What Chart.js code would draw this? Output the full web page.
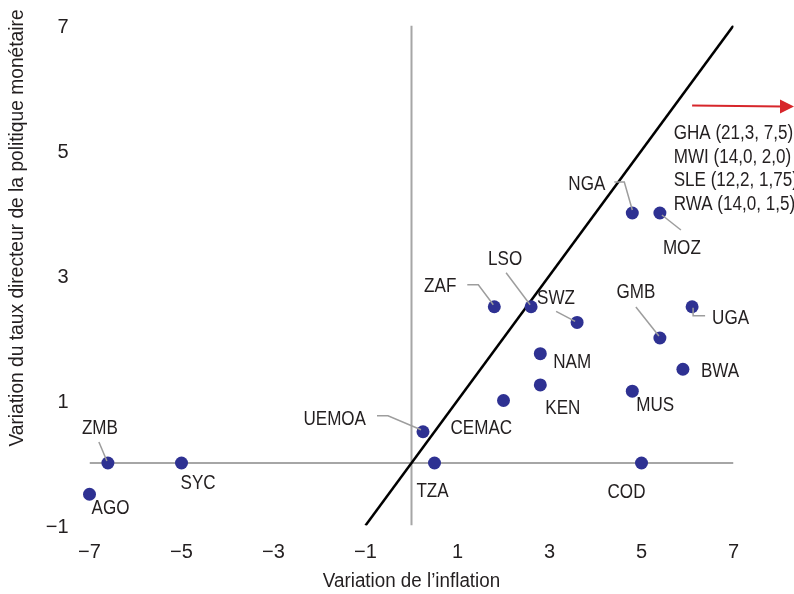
<!DOCTYPE html>
<html>
<head>
<meta charset="utf-8">
<script src="https://cdn.jsdelivr.net/npm/chart.js@4.4.1/dist/chart.umd.min.js"></script>
<style>
  html, body { margin: 0; padding: 0; background: #fff; }
  #wrap { width: 794px; height: 594px; }
</style>
</head>
<body>
<div id="wrap"><canvas id="chart" width="794" height="594"></canvas></div>
<script>
// Pays / unions monétaires
const codes = ['AGO', 'ZMB', 'SYC', 'UEMOA', 'TZA', 'CEMAC', 'ZAF', 'LSO', 'SWZ',
               'NAM', 'KEN', 'MUS', 'GMB', 'BWA', 'UGA', 'NGA', 'MOZ', 'COD'];
// Variation de l'inflation (axe x)
const inflation = [-7, -6.6, -5, 0.25, 0.5, 2, 1.8, 2.6, 3.6,
                   2.8, 2.8, 4.8, 5.4, 5.9, 6.1, 4.8, 5.4, 5];
// Variation du taux directeur (axe y)
const policyRate = [-0.5, 0, 0, 0.5, 0, 1, 2.5, 2.5, 2.25,
                    1.75, 1.25, 1.15, 2, 1.5, 2.5, 4, 4, 0];
// Hors graphique
const offChart = ['GHA (21,3, 7,5)', 'MWI (14,0, 2,0)', 'SLE (12,2, 1,75)', 'RWA (14,0, 1,5)'];
const xTicks = [-7, -5, -3, -1, 1, 3, 5, 7];
const yTicks = [-1, 1, 3, 5, 7];

const FONT = "'Liberation Sans', Arial, sans-serif";
const TEXT = '#231f20';
const DOT = '#2e3192';

// placement des étiquettes (décalages en px par rapport au point)
const labelLayout = {
  AGO:   { dx: 2, dy: 14, align: 'left' },
  ZMB:   { dx: -8, dy: -34, align: 'center', leader: [[-9, -21], [-1, -2]] },
  SYC:   { dx: -1, dy: 21, align: 'left' },
  UEMOA: { dx: -57, dy: -12, align: 'right', leader: [[-46, -16], [-35, -16], [-2, -2]] },
  TZA:   { dx: -2, dy: 29, align: 'center' },
  CEMAC: { dx: -53, dy: 28, align: 'left' },
  ZAF:   { dx: -38, dy: -20, align: 'right', leader: [[-27, -22], [-16, -22], [-1, -2]] },
  LSO:   { dx: -26, dy: -47, align: 'center', leader: [[-25, -34], [-1, -2]] },
  SWZ:   { dx: -40, dy: -24, align: 'left', leader: [[-21, -11], [-2, -1]] },
  NAM:   { dx: 13, dy: 9, align: 'left' },
  KEN:   { dx: 5, dy: 24, align: 'left' },
  MUS:   { dx: 4, dy: 14, align: 'left' },
  GMB:   { dx: -24, dy: -45, align: 'center', leader: [[-24, -31], [-1, -2]] },
  BWA:   { dx: 18, dy: 2, align: 'left' },
  UGA:   { dx: 20, dy: 12, align: 'left', leader: [[1, 1], [1, 9], [13, 9]] },
  NGA:   { dx: -27, dy: -28, align: 'right', leader: [[-18, -31], [-8, -31], [0, -3]] },
  MOZ:   { dx: 3, dy: 36, align: 'left', leader: [[2, 2], [21, 17]] },
  COD:   { dx: -15, dy: 30, align: 'center' }
};

const points = codes.map((c, i) => ({ x: inflation[i], y: policyRate[i], code: c }));

// texte légèrement condensé (police étroite du graphique d'origine)
function narrowText(ctx, text, x, y, align, sx) {
  ctx.save();
  ctx.translate(x, y);
  ctx.scale(sx, 1);
  ctx.textAlign = align;
  ctx.fillText(text, 0, 0);
  ctx.restore();
}

const annotations = {
  id: 'annotations',
  afterDatasetsDraw(chart) {
    const ctx = chart.ctx;
    const xs = chart.scales.x, ys = chart.scales.y;
    ctx.save();
    // traits de rappel
    ctx.strokeStyle = '#9d9d9d';
    ctx.lineWidth = 1.5;
    points.forEach(p => {
      const l = labelLayout[p.code];
      if (!l || !l.leader) return;
      const px = xs.getPixelForValue(p.x), py = ys.getPixelForValue(p.y);
      ctx.beginPath();
      l.leader.forEach((o, k) => {
        if (k === 0) ctx.moveTo(px + o[0], py + o[1]);
        else ctx.lineTo(px + o[0], py + o[1]);
      });
      ctx.stroke();
    });
    // étiquettes
    ctx.fillStyle = TEXT;
    ctx.font = '19.5px ' + FONT;
    ctx.textBaseline = 'middle';
    points.forEach(p => {
      const l = labelLayout[p.code];
      const px = xs.getPixelForValue(p.x), py = ys.getPixelForValue(p.y);
      narrowText(ctx, p.code, px + l.dx, py + l.dy, l.align, 0.875);
    });
    // notes hors graphique
    const nx = xs.getPixelForValue(5.7), ny = ys.getPixelForValue(5.27);
    offChart.forEach((t, i) => narrowText(ctx, t, nx, ny + i * 23.5, 'left', 0.875));
    // flèche rouge
    const ax = xs.getPixelForValue(6.1), ay = ys.getPixelForValue(5.72);
    const end = chart.width;
    ctx.strokeStyle = '#d7262b';
    ctx.fillStyle = '#d7262b';
    ctx.lineWidth = 2;
    ctx.beginPath();
    ctx.moveTo(ax, ay);
    ctx.lineTo(end - 12, ay + 1);
    ctx.stroke();
    ctx.beginPath();
    ctx.moveTo(end - 14, ay - 6);
    ctx.lineTo(end, ay + 1);
    ctx.lineTo(end - 14, ay + 8);
    ctx.closePath();
    ctx.fill();
    // titres des axes
    ctx.fillStyle = TEXT;
    ctx.font = '20px ' + FONT;
    narrowText(ctx, 'Variation de l\u2019inflation', (chart.chartArea.left + chart.chartArea.right) / 2, 581, 'center', 0.94);
    ctx.translate(17, 228);
    ctx.rotate(-Math.PI / 2);
    narrowText(ctx, 'Variation du taux directeur de la politique monétaire', 0, 0, 'center', 0.96);
    ctx.restore();
  }
};

const minus = v => String(v).replace('-', '\u2212');

new Chart(document.getElementById('chart'), {
  type: 'scatter',
  data: {
    datasets: [
      {
        type: 'line',
        data: [{ x: -7, y: 0 }, { x: 7, y: 0 }],
        borderColor: '#a6a6a6', borderWidth: 2, pointRadius: 0, order: 3
      },
      {
        type: 'line',
        data: [{ x: 0, y: -1 }, { x: 0, y: 7 }],
        borderColor: '#a6a6a6', borderWidth: 2, pointRadius: 0, order: 3
      },
      {
        type: 'line',
        data: [{ x: -1, y: -1 }, { x: 7, y: 7 }],
        borderColor: '#000', borderWidth: 2.5, pointRadius: 0, order: 2
      },
      {
        data: points,
        backgroundColor: DOT, borderColor: DOT,
        pointRadius: 6.5, borderWidth: 0, clip: false, order: 1
      }
    ]
  },
  plugins: [annotations],
  options: {
    responsive: false,
    animation: false,
    layout: { padding: { left: 0, top: 25.5, right: 60.5, bottom: 0 } },
    plugins: { legend: { display: false }, tooltip: { enabled: false } },
    scales: {
      x: {
        type: 'linear', min: -7, max: 7,
        grid: { display: false }, border: { display: false },
        afterBuildTicks: s => { s.ticks = xTicks.map(v => ({ value: v })); },
        afterFit: s => { s.height = 68.5; },
        ticks: { color: TEXT, font: { family: FONT, size: 20 }, padding: 7, maxRotation: 0,
                 callback: v => minus(v) }
      },
      y: {
        type: 'linear', min: -1, max: 7,
        grid: { display: false }, border: { display: false },
        afterBuildTicks: s => { s.ticks = yTicks.map(v => ({ value: v })); },
        afterFit: s => { s.width = 89.5; },
        ticks: { color: TEXT, font: { family: FONT, size: 20 }, padding: 13, labelOffset: 2,
                 callback: v => minus(v) }
      }
    }
  }
});
</script>
</body>
</html>
